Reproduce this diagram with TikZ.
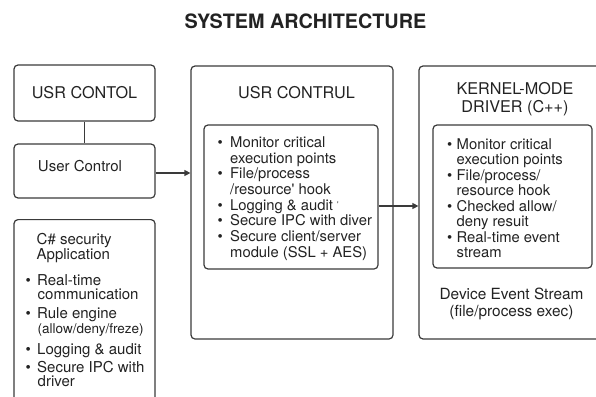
\documentclass[tikz,border=0pt]{standalone}
\usepackage{fontspec}
\setmainfont{TeX Gyre Heros}
\usetikzlibrary{arrows.meta}

\definecolor{ink}{HTML}{222222}
\definecolor{edge}{HTML}{3A3A3A}
\newcommand{\fsz}[2]{\fontsize{#1}{#2}\selectfont}
\newcommand{\bitem}[1][12.5pt]{\makebox[#1][l]{\textbullet}}
\newcommand{\bcont}[1][12.5pt]{\hspace*{#1}}

\begin{document}
\begin{tikzpicture}[x=1pt, y=-1pt,
    box/.style={draw=edge, line width=1.2pt, rounded corners=4pt, inner sep=0pt},
    head/.style={text=ink, font=\fsz{16.2}{18}},
    body/.style={text=ink, anchor=north west, inner sep=0pt, align=left},
    link/.style={draw=edge, line width=1.2pt},
    arr/.style={link, -{Triangle[length=6pt,width=6pt]}}]

    \useasboundingbox (0,0) rectangle (596,396);

    \node[text=ink, font=\bfseries\fsz{19.8}{22}] (title) at (305.5,21) {SYSTEM ARCHITECTURE};

    % left column
    \node[box, head, minimum width=141pt, minimum height=56pt] (usrcontol) at (84.5,93) {USR CONTOL};
    \node[box, minimum width=141pt, minimum height=54pt] (userctl) at (84.5,171) {};
    \node[text=ink, font=\fsz{15}{17}] (userctltext) at (80,166) {User Control};
    \node[box, anchor=north, minimum width=141pt, minimum height=200pt] (csharp) at (84.5,219) {};
    \node[body, font=\fsz{15}{14.5}] (csharptext) at (25.5,233.4) {
        \bcont[11pt]C\# security\\
        \bcont[11pt]Application\\[11.5pt]
        \bitem[11.5pt]Real-time\\
        \bcont[12pt]communication\\[4.5pt]
        \bitem[11.5pt]Rule engine\\
        \bcont[12pt]{\fsz{13.5}{14.5}(allow/deny/freze)}\\[6.5pt]
        \bitem[11.5pt]Logging \& audit\\[3.5pt]
        \bitem[11.5pt]Secure IPC with\\
        \bcont[12pt]driver};

    % middle column
    \node[box, minimum width=202pt, minimum height=273pt] (usrcontrul) at (292,202.5) {};
    \node[head] (usrcontrultitle) at (296.5,93) {USR CONTRUL};
    \node[box, minimum width=174pt, minimum height=144pt] (hooks) at (291,197) {};
    \node[body, font=\fsz{14.8}{15.7}] (hookstext) at (217.5,136.5) {
        \bitem Monitor critical\\
        \bcont execution points\\
        \bitem File/process\\
        \bcont /resource\textquotesingle{} hook\\
        \bitem Logging \& audit \raisebox{3pt}{\fsz{8}{8}\textquotesingle}\\
        \bitem Secure IPC with diver\\
        \bitem Secure client/server\\
        \bcont module (SSL + AES)};

    % right column
    \node[box, minimum width=191pt, minimum height=273pt] (kernel) at (514.5,202.5) {};
    \node[head, align=center] (kerneltitle) at (515,99) {KERNEL-MODE\\DRIVER (C++)};
    \node[box, minimum width=159pt, minimum height=143pt] (driverbox) at (512.5,196.5) {};
    \node[body, font=\fsz{14.8}{15.5}] (drivertext) at (447,138.5) {
        \bitem[9.5pt]Monitor critical\\
        \bcont[9.5pt]execution points\\
        \bitem[9.5pt]File/process/\\
        \bcont[9.5pt]resource hook\\
        \bitem[9.5pt]Checked allow/\\
        \bcont[9.5pt]deny resuit\\
        \bitem[9.5pt]Real-time event\\
        \bcont[9.5pt]stream};
    \node[text=ink, font=\fsz{15.4}{17}, align=center] (devstream) at (511.5,303.5) {Device Event Stream\\(file/process exec)};

    % connectors
    \draw[link] (usrcontol) -- (userctl);
    \coordinate (outa) at ([yshift=-2pt]userctl.east);
    \draw[arr] (outa) -- (outa -| usrcontrul.west);
    \coordinate (outb) at ([yshift=-9pt]hooks.east);
    \draw[arr] (outb) -- (outb -| kernel.west);
\end{tikzpicture}
\end{document}
